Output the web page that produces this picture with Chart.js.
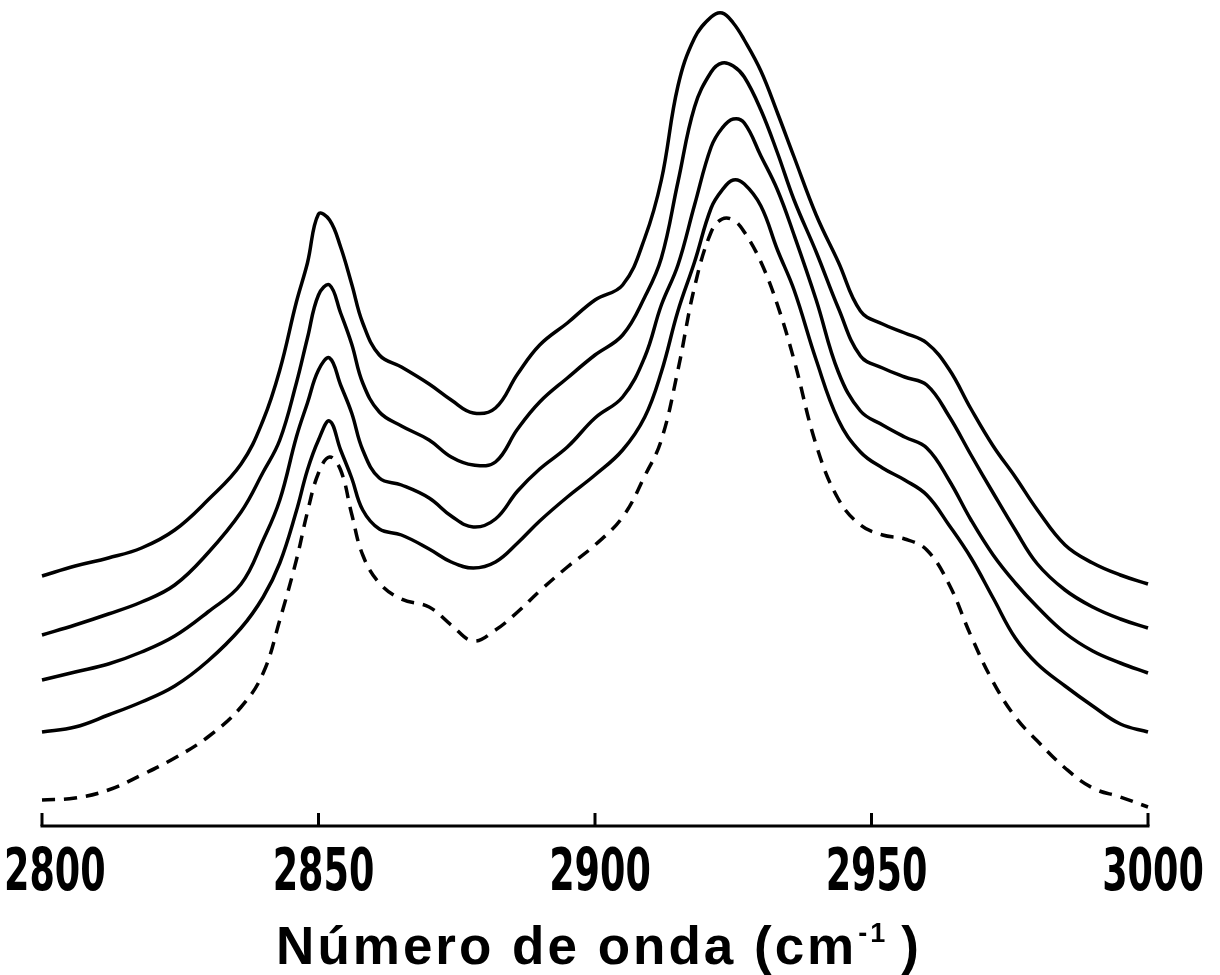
<!DOCTYPE html>
<html>
<head>
<meta charset="utf-8">
<script src="https://cdn.jsdelivr.net/npm/chart.js@4.4.1/dist/chart.umd.min.js"></script>
<style>
  html, body { margin: 0; padding: 0; background: #fff; }
  #wrap { width: 1220px; height: 975px; position: relative; }
</style>
</head>
<body>
<div id="wrap"><canvas id="spectraChart"></canvas></div>
<script>
// wavenumber grid (cm-1)
const wavenumbers = [2800, 2806, 2812, 2818, 2824, 2830, 2836, 2840, 2843, 2846,
    2848, 2850, 2852, 2854, 2856, 2858, 2861, 2865, 2870, 2874,
    2878, 2882, 2886, 2890, 2895, 2900, 2905, 2909, 2912, 2915,
    2918, 2921, 2923, 2925, 2927, 2930, 2933, 2936, 2940, 2944,
    2948, 2952, 2956, 2960, 2964, 2968, 2972, 2976, 2980, 2985,
    2990, 2995, 3000];

// solid spectra, top to bottom (arbitrary absorbance units, offset)
const spectrum1 = [2.50, 2.60, 2.68, 2.78, 2.96, 3.26, 3.62, 4.06, 4.56, 5.24,
    5.63, 6.12, 6.06, 5.79, 5.42, 5.03, 4.71, 4.59, 4.42, 4.26,
    4.13, 4.18, 4.52, 4.81, 5.03, 5.26, 5.41, 5.88, 6.46, 7.40,
    7.88, 8.09, 8.13, 8.03, 7.86, 7.55, 7.13, 6.69, 6.11, 5.64,
    5.15, 5.02, 4.93, 4.83, 4.57, 4.17, 3.80, 3.49, 3.16, 2.81,
    2.63, 2.51, 2.42];
const spectrum2 = [1.91, 2.01, 2.12, 2.24, 2.41, 2.73, 3.14, 3.54, 3.86, 4.43,
    4.88, 5.31, 5.41, 5.13, 4.82, 4.43, 4.14, 4.00, 3.86, 3.69,
    3.61, 3.64, 3.97, 4.24, 4.48, 4.71, 4.91, 5.29, 5.68, 6.44,
    7.19, 7.54, 7.63, 7.60, 7.49, 7.16, 6.73, 6.26, 5.74, 5.18,
    4.70, 4.58, 4.49, 4.41, 4.10, 3.71, 3.33, 2.96, 2.62, 2.36,
    2.19, 2.07, 1.98];
const spectrum3 = [1.46, 1.54, 1.62, 1.74, 1.90, 2.14, 2.42, 2.86, 3.26, 3.89,
    4.23, 4.56, 4.68, 4.41, 4.13, 3.76, 3.48, 3.41, 3.28, 3.10,
    2.99, 3.07, 3.35, 3.57, 3.79, 4.08, 4.29, 4.69, 5.21, 5.61,
    6.21, 6.79, 6.98, 7.07, 7.03, 6.70, 6.36, 5.91, 5.26, 4.54,
    4.15, 4.01, 3.89, 3.78, 3.46, 3.06, 2.71, 2.43, 2.19, 1.93,
    1.75, 1.63, 1.53];
const spectrum4 = [0.94, 0.99, 1.11, 1.24, 1.40, 1.65, 1.98, 2.29, 2.63, 3.15,
    3.56, 3.86, 4.05, 3.76, 3.48, 3.16, 2.97, 2.91, 2.77, 2.64,
    2.58, 2.64, 2.83, 3.05, 3.29, 3.51, 3.76, 4.09, 4.54, 5.15,
    5.64, 6.18, 6.36, 6.46, 6.42, 6.20, 5.76, 5.36, 4.66, 4.06,
    3.74, 3.58, 3.46, 3.31, 3.01, 2.68, 2.28, 1.88, 1.62, 1.40,
    1.20, 1.02, 0.94];
// dashed reference spectrum
const spectrumRef = [0.26, 0.28, 0.36, 0.51, 0.68, 0.89, 1.19, 1.53, 2.06, 2.66,
    3.14, 3.53, 3.69, 3.56, 3.12, 2.71, 2.43, 2.27, 2.19, 2.01,
    1.85, 1.96, 2.14, 2.35, 2.59, 2.81, 3.09, 3.50, 3.86, 4.56,
    5.39, 5.94, 6.07, 6.06, 5.94, 5.64, 5.21, 4.66, 3.81, 3.27,
    3.01, 2.91, 2.87, 2.76, 2.42, 1.90, 1.44, 1.09, 0.85, 0.58,
    0.38, 0.29, 0.19];

const tickValues = [2800, 2850, 2900, 2950, 3000];
const axisTitle = 'Número de onda (cm';
const axisTitleSup = '-1';

const toPoints = arr => wavenumbers.map((w, i) => ({ x: w, y: arr[i] }));

function lineSet(arr, dashed) {
    return {
        data: toPoints(arr),
        borderColor: '#000',
        borderWidth: 3.5,
        borderDash: dashed ? [13, 9] : [],
        pointRadius: 0,
        fill: false,
        tension: 0.4,
        clip: false
    };
}

// axis line, inward ticks, condensed labels and title
const axisPlugin = {
    id: 'axisPlugin',
    afterDraw(chart) {
        const ctx = chart.ctx;
        const xs = chart.scales.x, ys = chart.scales.y;
        const y0 = ys.getPixelForValue(0);
        ctx.save();
        ctx.strokeStyle = '#000';
        ctx.fillStyle = '#000';
        ctx.lineWidth = 3;
        ctx.beginPath();
        ctx.moveTo(xs.getPixelForValue(2800) - 1.5, y0);
        ctx.lineTo(xs.getPixelForValue(3000) + 1.5, y0);
        ctx.stroke();
        tickValues.forEach(v => {
            const px = xs.getPixelForValue(v);
            ctx.beginPath();
            ctx.moveTo(px, y0);
            ctx.lineTo(px, y0 - 13);
            ctx.stroke();
        });

        ctx.font = 'bold 58px "DejaVu Sans"';
        ctx.textAlign = 'center';
        ctx.textBaseline = 'alphabetic';
        tickValues.forEach(v => {
            let px = xs.getPixelForValue(v) + 5;
            const w = ctx.measureText(String(v)).width * 0.63;
            px = Math.max(px, w / 2 + 4);
            ctx.save();
            ctx.translate(px, y0 + 64);
            ctx.scale(0.63, 1);
            ctx.fillText(String(v), 0, 0);
            ctx.restore();
        });

        const mainFont = 'bold 53px "Liberation Sans", Arial, sans-serif';
        const supFont = 'bold 27px "Liberation Sans", Arial, sans-serif';
        ctx.textAlign = 'left';
        ctx.letterSpacing = '3px';
        ctx.font = mainFont;
        const w1 = ctx.measureText(axisTitle).width;
        const w3 = ctx.measureText(')').width;
        ctx.font = supFont;
        const w2 = ctx.measureText(axisTitleSup).width;
        const gap = 14;
        const total = w1 + w2 + gap + w3;
        const cx = (xs.getPixelForValue(2800) + xs.getPixelForValue(3000)) / 2 + 4;
        let tx = cx - total / 2;
        const base = y0 + 138;
        ctx.font = mainFont;
        ctx.fillText(axisTitle, tx, base);
        tx += w1 + 1;
        ctx.font = supFont;
        ctx.fillText(axisTitleSup, tx, base - 22);
        tx += w2 + gap - 1;
        ctx.font = mainFont;
        ctx.fillText(')', tx, base);
        ctx.restore();
    }
};

const ctx = document.getElementById('spectraChart').getContext('2d');
const spectraChart = new Chart(ctx, {
    type: 'line',
    data: {
        datasets: [
            lineSet(spectrum1, false),
            lineSet(spectrum2, false),
            lineSet(spectrum3, false),
            lineSet(spectrum4, false),
            lineSet(spectrumRef, true)
        ]
    },
    options: {
        responsive: true,
        maintainAspectRatio: false,
        animation: false,
        layout: { padding: { left: 42, right: 72, top: 0, bottom: 149 } },
        plugins: {
            legend: { display: false },
            tooltip: { enabled: false }
        },
        scales: {
            x: { type: 'linear', min: 2800, max: 3000, display: false },
            y: { type: 'linear', min: 0, max: 8.26, display: false }
        }
    },
    plugins: [axisPlugin]
});
</script>
</body>
</html>
